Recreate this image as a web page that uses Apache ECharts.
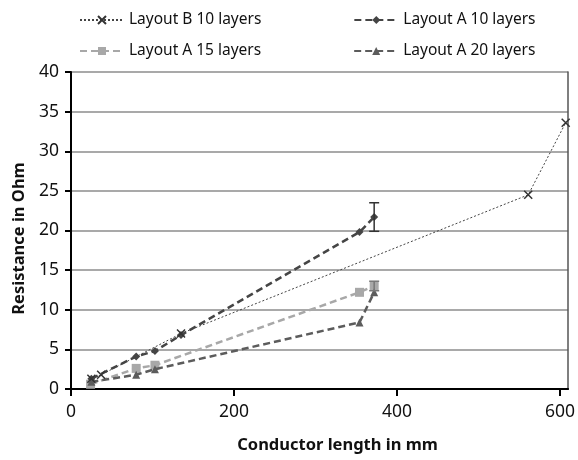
<!DOCTYPE html>
<html>
<head>
<meta charset="utf-8">
<script src="https://cdn.jsdelivr.net/npm/echarts@6/dist/echarts.min.js"></script>
<style>
  html, body { margin: 0; padding: 0; background: #fff; }
  #chart { width: 578px; height: 460px; }
</style>
</head>
<body>
<div id="chart"></div>
<script>
// values: [length mm, resistance Ohm]
const layoutB10 = [[25, 1.3], [37, 1.8], [135, 7.0], [561, 24.5], [607, 33.6]];
const layoutA10 = [[25, 1.3], [80, 4.1], [103, 4.8], [135, 6.8], [354, 19.8], [372, 21.7]];
const layoutA15 = [[24, 0.6], [80, 2.6], [103, 3.0], [354, 12.2], [372, 13.0]];
const layoutA20 = [[25, 0.9], [80, 1.8], [103, 2.5], [354, 8.4], [372, 12.2]];
// error bars: [x, low, high]
const errA10 = [[372, 19.9, 23.5]];
const errA15 = [[372, 12.4, 13.6]];
const xTicks = [0, 200, 400, 600];

const font = "'Noto Sans', sans-serif";
const chart = echarts.init(document.getElementById("chart"));

function errorSeries(data, color) {
    return {
        type: 'custom',
        data: data,
        z: 5,
        renderItem: function (params, api) {
            const top = api.coord([api.value(0), api.value(2)]);
            const bot = api.coord([api.value(0), api.value(1)]);
            const w = 5;
            const st = { stroke: color, lineWidth: 1.5 };
            return {
                type: 'group',
                children: [
                    { type: 'line', shape: { x1: top[0], y1: top[1], x2: bot[0], y2: bot[1] }, style: st },
                    { type: 'line', shape: { x1: top[0] - w, y1: top[1], x2: top[0] + w, y2: top[1] }, style: st },
                    { type: 'line', shape: { x1: bot[0] - w, y1: bot[1], x2: bot[0] + w, y2: bot[1] }, style: st }
                ]
            };
        }
    };
}

const legendText = { fontFamily: font, fontSize: 15.5, color: '#111' };
const option = {
    animation: false,
    legend: [
        { data: ['Layout B 10 layers', 'Layout A 10 layers'], left: 74, top: 7, itemWidth: 44, itemHeight: 10, itemGap: 92, textStyle: legendText },
        { data: ['Layout A 15 layers', 'Layout A 20 layers'], left: 74, top: 38, itemWidth: 44, itemHeight: 10, itemGap: 92, textStyle: legendText }
    ],
    grid: { left: 71, right: 6, top: 72, bottom: 71 },
    xAxis: {
        type: 'value', min: 0, max: 610,
        name: 'Conductor length in mm', nameLocation: 'middle', nameGap: 48,
        nameTextStyle: { fontFamily: font, fontSize: 16.5, fontWeight: 'bold', color: '#111', padding: [0, 0, 0, 36] },
        axisLine: { lineStyle: { color: '#000', width: 2 } },
        axisTick: { show: true, inside: false, length: 7, lineStyle: { color: '#000', width: 2 }, customValues: xTicks },
        axisLabel: { fontFamily: font, fontSize: 17.5, color: '#111', margin: 14, customValues: xTicks },
        splitLine: { show: false }
    },
    yAxis: [{
        type: 'value', min: 0, max: 40, interval: 5,
        name: 'Resistance in Ohm', nameLocation: 'middle', nameGap: 43,
        nameTextStyle: { fontFamily: font, fontSize: 16.5, fontWeight: 'bold', color: '#111', padding: [0, 16, 0, 0] },
        axisLine: { show: true, lineStyle: { color: '#000', width: 2 } },
        axisTick: { show: true, length: 6, lineStyle: { color: '#000', width: 2 } },
        axisLabel: { fontFamily: font, fontSize: 17.5, color: '#111', margin: 12 },
        splitLine: { lineStyle: { color: '#8c8c8c', width: 1.5 } }
    }, {
        type: 'value', min: 0, max: 40, position: 'right',
        axisLine: { show: true, lineStyle: { color: '#555', width: 1.5 } },
        axisTick: { show: false }, axisLabel: { show: false }, splitLine: { show: false }
    }],
    series: [
        {
            name: 'Layout B 10 layers', type: 'line', data: layoutB10, z: 4,
            symbol: 'path://M0,0L10,10M10,0L0,10', symbolSize: 8,
            lineStyle: { color: '#444', width: 1, type: [2, 2] },
            itemStyle: { color: '#333', borderColor: '#333', borderWidth: 1.5 }
        },
        {
            name: 'Layout A 10 layers', type: 'line', data: layoutA10, z: 3,
            symbol: 'diamond', symbolSize: 8,
            lineStyle: { color: '#454545', width: 2.5, type: [7, 4] },
            itemStyle: { color: '#454545' }
        },
        {
            name: 'Layout A 15 layers', type: 'line', data: layoutA15, z: 2,
            symbol: 'rect', symbolSize: 9,
            lineStyle: { color: '#a8a8a8', width: 2.5, type: [7, 4] },
            itemStyle: { color: '#a8a8a8' }
        },
        {
            name: 'Layout A 20 layers', type: 'line', data: layoutA20, z: 3,
            symbol: 'triangle', symbolSize: 8,
            lineStyle: { color: '#5c5c5c', width: 2.5, type: [7, 4] },
            itemStyle: { color: '#5c5c5c' }
        },
        errorSeries(errA10, '#333'),
        errorSeries(errA15, '#777')
    ]
};
chart.setOption(option);
</script>
</body>
</html>
